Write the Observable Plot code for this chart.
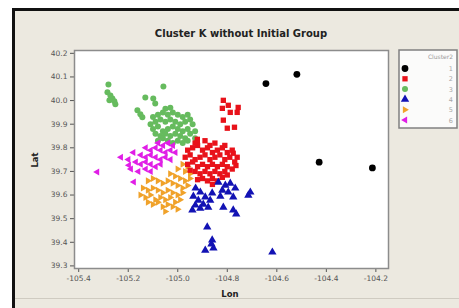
<!DOCTYPE html>
<html><head><meta charset="utf-8">
<script src="https://cdn.jsdelivr.net/npm/d3@7"></script>
<script src="https://cdn.jsdelivr.net/npm/@observablehq/plot@0.6"></script>
<style>body{margin:0;background:#fff} svg{display:block}</style>
</head><body><div id="chart"></div>
<script>
const titleText = "Cluster K without Initial Group";
const xLabel = "Lon";
const yLabel = "Lat";
const legendTitle = "Cluster2";
const xTicks = [-105.4, -105.2, -105.0, -104.8, -104.6, -104.4, -104.2];
const yTicks = [39.3, 39.4, 39.5, 39.6, 39.7, 39.8, 39.9, 40.0, 40.1, 40.2];
const clusterNames = ["1", "2", "3", "4", "5", "6"];
const clusterColors = ["#000000", "#e8121a", "#66bb5e", "#1212b4", "#f0a22a", "#e01ee6"];

const cluster1 = [[-104.644,40.072],[-104.519,40.111],[-104.429,39.739],[-104.214,39.715]];

const cluster2 = [
[-104.816,40.001],[-104.796,39.980],[-104.756,39.971],[-104.820,39.967],[-104.788,39.950],[-104.760,39.950],
[-104.816,39.917],[-104.800,39.883],[-104.771,39.887],[-104.776,39.777],[-104.921,39.836],[-104.921,39.823],
[-104.96,39.79],[-104.94,39.80],[-104.92,39.81],[-104.90,39.79],[-104.88,39.80],[-104.86,39.78],[-104.84,39.79],[-104.82,39.80],[-104.80,39.78],[-104.78,39.79],
[-104.97,39.76],[-104.95,39.77],[-104.93,39.75],[-104.91,39.76],[-104.89,39.77],[-104.87,39.75],[-104.85,39.76],[-104.83,39.77],[-104.81,39.75],[-104.79,39.76],[-104.77,39.74],
[-104.96,39.73],[-104.94,39.74],[-104.92,39.72],[-104.90,39.73],[-104.88,39.72],[-104.86,39.73],[-104.84,39.72],[-104.82,39.73],[-104.80,39.72],[-104.78,39.71],
[-104.93,39.70],[-104.91,39.69],[-104.89,39.70],[-104.87,39.69],[-104.85,39.70],[-104.83,39.69],[-104.81,39.70],
[-104.90,39.67],[-104.88,39.66],[-104.86,39.67],[-104.84,39.66],
[-104.93,39.82],[-104.89,39.83],[-104.85,39.82],[-104.81,39.81],
[-104.92,39.665],[-104.82,39.675],[-104.80,39.685],[-104.86,39.645],[-104.76,39.76],[-104.765,39.725],[-104.95,39.705],[-104.87,39.81]
];

const cluster3 = [
[-105.280,40.068],[-105.284,40.035],[-105.272,40.022],[-105.276,40.001],[-105.264,40.009],[-105.256,39.997],[-105.252,39.984],
[-105.058,40.060],[-105.131,40.013],[-105.099,40.009],[-105.091,39.988],[-105.163,39.959],[-105.151,39.942],[-105.143,39.929],
[-105.05,39.965],[-105.03,39.97],
[-105.10,39.93],[-105.08,39.94],[-105.06,39.95],[-105.04,39.94],[-105.02,39.95],[-105.00,39.94],[-104.98,39.93],[-104.96,39.94],[-104.95,39.92],
[-105.11,39.90],[-105.09,39.91],[-105.07,39.92],[-105.05,39.91],[-105.03,39.92],[-105.01,39.91],[-104.99,39.90],[-104.97,39.91],[-104.94,39.90],
[-105.10,39.88],[-105.08,39.89],[-105.06,39.87],[-105.04,39.88],[-105.02,39.89],[-105.00,39.88],[-104.98,39.87],[-104.96,39.88],[-104.93,39.87],
[-105.09,39.86],[-105.07,39.85],[-105.05,39.86],[-105.03,39.85],[-105.01,39.86],[-104.99,39.85],[-104.97,39.84],[-104.95,39.86],[-104.93,39.84],
[-105.08,39.83],[-105.06,39.84],[-105.04,39.83],[-105.02,39.82],[-105.00,39.83],[-104.98,39.82],[-104.96,39.83]
];

const cluster4 = [
[-104.928,39.629],[-104.909,39.612],[-104.937,39.595],[-104.917,39.578],[-104.889,39.591],[-104.897,39.561],[-104.929,39.557],
[-104.869,39.578],[-104.877,39.548],[-104.909,39.544],[-104.941,39.536],[-104.861,39.608],
[-104.836,39.654],[-104.808,39.641],[-104.788,39.650],[-104.820,39.620],[-104.796,39.612],[-104.768,39.629],[-104.828,39.595],[-104.776,39.591],
[-104.715,39.599],[-104.707,39.612],[-104.776,39.536],[-104.764,39.519],[-104.816,39.548],
[-104.881,39.464],[-104.861,39.409],[-104.889,39.366],[-104.856,39.375],[-104.864,39.392],
[-104.618,39.358]
];

const cluster5 = [
[-104.98,39.73],[-104.96,39.72],[-105.00,39.71],[-104.97,39.70],[-104.95,39.69],
[-105.03,39.69],[-105.01,39.68],[-104.99,39.67],[-104.97,39.66],[-104.95,39.67],
[-105.12,39.66],[-105.10,39.67],[-105.08,39.66],[-105.06,39.65],[-105.04,39.66],[-105.02,39.65],[-105.00,39.64],[-104.98,39.63],[-104.96,39.64],
[-105.14,39.63],[-105.12,39.62],[-105.10,39.63],[-105.08,39.62],[-105.06,39.61],[-105.04,39.62],[-105.02,39.61],[-105.00,39.60],[-104.98,39.61],
[-105.15,39.60],[-105.13,39.59],[-105.11,39.60],[-105.09,39.58],[-105.07,39.59],[-105.05,39.58],[-105.03,39.59],[-105.01,39.57],[-104.99,39.58],
[-105.12,39.57],[-105.10,39.56],[-105.08,39.57],[-105.06,39.55],[-105.04,39.56],[-105.02,39.55],[-105.00,39.54],
[-105.05,39.53]
];

const cluster6 = [
[-105.08,39.82],[-105.06,39.81],[-105.04,39.82],[-105.02,39.81],
[-105.13,39.80],[-105.11,39.79],[-105.09,39.80],[-105.07,39.79],[-105.05,39.78],[-105.03,39.79],[-105.01,39.78],
[-105.18,39.78],[-105.15,39.77],[-105.13,39.76],[-105.11,39.77],[-105.09,39.76],[-105.07,39.75],[-105.05,39.76],[-105.03,39.75],
[-105.23,39.76],[-105.20,39.75],[-105.17,39.74],[-105.15,39.73],[-105.13,39.74],[-105.11,39.73],[-105.09,39.72],[-105.07,39.73],
[-105.19,39.71],[-105.16,39.70],[-105.13,39.71],[-105.11,39.70],[-105.178,39.655],[-105.198,39.726],
[-105.326,39.698]
];

const triRight = { draw(ctx, size) { const r = Math.sqrt(size / Math.PI) * 1.3; ctx.moveTo(r, 0); ctx.lineTo(-r * 0.55, r * 0.9); ctx.lineTo(-r * 0.55, -r * 0.9); ctx.closePath(); } };
const triLeft = { draw(ctx, size) { const r = Math.sqrt(size / Math.PI) * 1.3; ctx.moveTo(-r, 0); ctx.lineTo(r * 0.55, r * 0.9); ctx.lineTo(r * 0.55, -r * 0.9); ctx.closePath(); } };
const symbols = ["circle", "square", "circle", "triangle", triRight, triLeft];
const sizes = [3.4, 3.0, 3.0, 3.1, 3.0, 3.0];
const clusters = [cluster1, cluster2, cluster3, cluster4, cluster5, cluster6];
const drawOrder = [2, 5, 4, 1, 3, 0];

const W = 459, H = 308;
const chart = Plot.plot({
  width: W, height: H,
  marginLeft: 74, marginTop: 50, marginRight: 71, marginBottom: 40,
  style: { background: "transparent", fontFamily: "DejaVu Sans", fontSize: "7.5px", color: "#555" },
  x: { domain: [-105.417, -104.149], ticks: xTicks, tickFormat: d => d.toFixed(1), tickSize: 4, tickPadding: 3, label: null },
  y: { domain: [39.289, 40.212], ticks: yTicks, tickFormat: d => d.toFixed(1), tickSize: 4, tickPadding: 3, label: null },
  marks: [
    Plot.frame({ fill: "white" }),
    ...drawOrder.map(i => Plot.dot(clusters[i], { x: d => d[0], y: d => d[1], symbol: symbols[i], r: sizes[i], fill: clusterColors[i], stroke: "none" })),
    Plot.frame({ stroke: "#8c8c8c", strokeWidth: 1.5 })
  ]
});
document.getElementById("chart").appendChild(chart);

const svg = d3.select(chart);
const bg = svg.insert("g", ":first-child");
bg.append("rect").attr("x", 0).attr("y", 0).attr("width", W).attr("height", H).attr("fill", "#ffffff");
bg.append("rect").attr("x", 12).attr("y", 8).attr("width", W - 12).attr("height", H - 8).attr("fill", "#ece9e0");
bg.append("line").attr("x1", 15).attr("x2", W).attr("y1", 298.5).attr("y2", 298.5).attr("stroke", "#cfcbc1");
bg.append("path").attr("d", `M13.5,${H} V9.5 H${W}`).attr("fill", "none").attr("stroke", "#111").attr("stroke-width", 3);

const ann = svg.append("g").attr("font-family", "DejaVu Sans").attr("fill", "#222");
ann.append("text").attr("x", 241).attr("y", 37).attr("text-anchor", "middle").attr("font-size", 10).attr("font-weight", "bold").text(titleText);
ann.append("text").attr("x", 230).attr("y", 297).attr("text-anchor", "middle").attr("font-size", 8.5).attr("font-weight", "bold").text(xLabel);
ann.append("text").attr("transform", "translate(38,160) rotate(-90)").attr("text-anchor", "middle").attr("font-size", 8.5).attr("font-weight", "bold").text(yLabel);

const lg = svg.append("g");
lg.append("rect").attr("x", 399).attr("y", 50).attr("width", 58).attr("height", 78).attr("fill", "#fbfbfa").attr("stroke", "#808080").attr("stroke-width", 1.5);
lg.append("text").attr("x", 453).attr("y", 59).attr("text-anchor", "end").attr("font-family", "DejaVu Sans").attr("font-size", 6).attr("fill", "#9a9a9a").text(legendTitle);
clusterNames.forEach((name, i) => {
  const y = 68.5 + i * 10.3;
  const r = sizes[i];
  lg.append("path").attr("transform", `translate(405,${y})`)
    .attr("d", d3.symbol().type(i === 0 || i === 2 ? d3.symbolCircle : i === 1 ? d3.symbolSquare : i === 3 ? d3.symbolTriangle : symbols[i]).size(Math.PI * r * r)())
    .attr("fill", clusterColors[i]);
  lg.append("text").attr("x", 453).attr("y", y + 2.5).attr("text-anchor", "end").attr("font-family", "DejaVu Sans").attr("font-size", 6.5).attr("fill", "#a8a8a8").text(name);
});
</script>
</body></html>
